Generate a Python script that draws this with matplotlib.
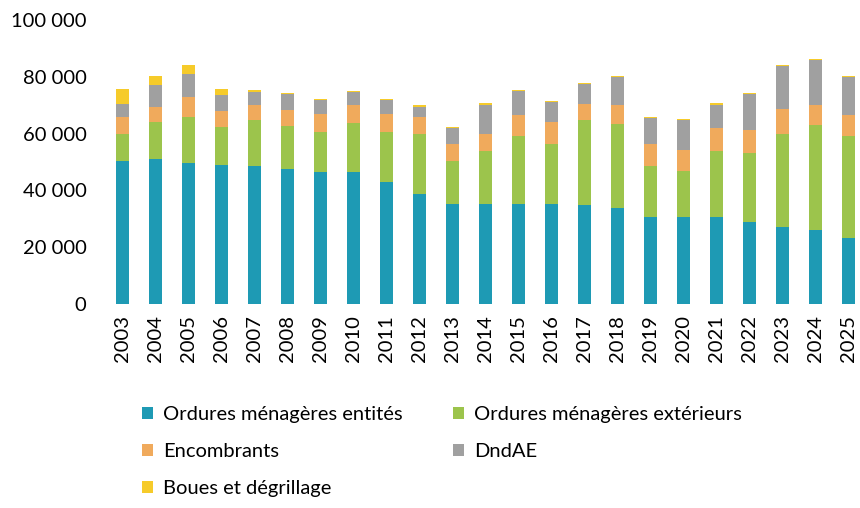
import matplotlib.pyplot as plt
import numpy as np

plt.rcParams['font.family'] = ['Lato', 'DejaVu Sans']

years = [str(y) for y in range(2003, 2026)]

# tonnes par flux (lecture du graphique)
om_entites = [50500, 51000, 49500, 48800, 48700, 47600, 46600, 46500, 42800, 38800, 35300, 35300,
              35300, 35300, 35000, 33800, 30700, 30500, 30800, 28900, 27200, 25900, 23200]
om_exterieurs = [9500, 13200, 16500, 13700, 16200, 15200, 14100, 17300, 17900, 20900, 15000, 18400,
                 23700, 21200, 29900, 29700, 17800, 16300, 22900, 24100, 32800, 37300, 35800]
encombrants = [6000, 5300, 6900, 5500, 5300, 5600, 6300, 6400, 6300, 6300, 5900, 6300,
               7700, 7700, 5600, 6700, 7700, 7600, 8400, 8400, 8800, 7000, 7700]
dndae = [4500, 7600, 8100, 5600, 4500, 5600, 4900, 4300, 4900, 3500, 5600, 10200,
         8300, 7000, 7000, 9700, 9400, 10500, 8100, 12600, 15000, 15700, 13200]
boues = [5200, 3200, 3100, 2100, 500, 400, 400, 400, 400, 400, 400, 400,
         400, 400, 400, 400, 400, 400, 400, 400, 400, 400, 400]

series = [
    ('Ordures ménagères entités', om_entites, '#1e9ab4'),
    ('Ordures ménagères extérieurs', om_exterieurs, '#9cc44c'),
    ('Encombrants', encombrants, '#f0aa5c'),
    ('DndAE', dndae, '#a0a0a0'),
    ('Boues et dégrillage', boues, '#f6cb2a'),
]

fig = plt.figure(figsize=(8.6, 5.08), dpi=100)
ax = fig.add_axes([106 / 860, 1 - 304 / 508, (860 - 106) / 860, (304 - 20) / 508])

x = np.arange(len(years))
bottom = np.zeros(len(years))
handles = {}
for name, vals, color in series:
    b = ax.bar(x, vals, width=0.37, bottom=bottom, color=color, label=name)
    handles[name] = b
    bottom += np.array(vals)

ax.set_xlim(-0.5, 22.35)
ax.set_ylim(0, 100000)
ax.set_yticks(range(0, 100001, 20000))
ax.set_yticklabels([f'{v:,}'.replace(',', ' ') for v in range(0, 100001, 20000)], fontsize=14.5)
ax.set_xticks(x)
ax.set_xticklabels(years, rotation=90, fontsize=14.5)
ax.tick_params(length=0)
ax.tick_params(axis='y', pad=14)
ax.tick_params(axis='x', pad=8)
for s in ax.spines.values():
    s.set_visible(False)

order = ['Ordures ménagères entités', 'Encombrants', 'Boues et dégrillage',
         'Ordures ménagères extérieurs', 'DndAE']
fig.legend([handles[n] for n in order], order, ncol=2, frameon=False, fontsize=14.5,
           loc='upper left', bbox_to_anchor=(124 / 860, 1 - 388 / 508),
           handlelength=0.55, handleheight=0.55, handletextpad=0.5,
           columnspacing=2.5, labelspacing=1.0)

fig.savefig('out.png', dpi=100)
